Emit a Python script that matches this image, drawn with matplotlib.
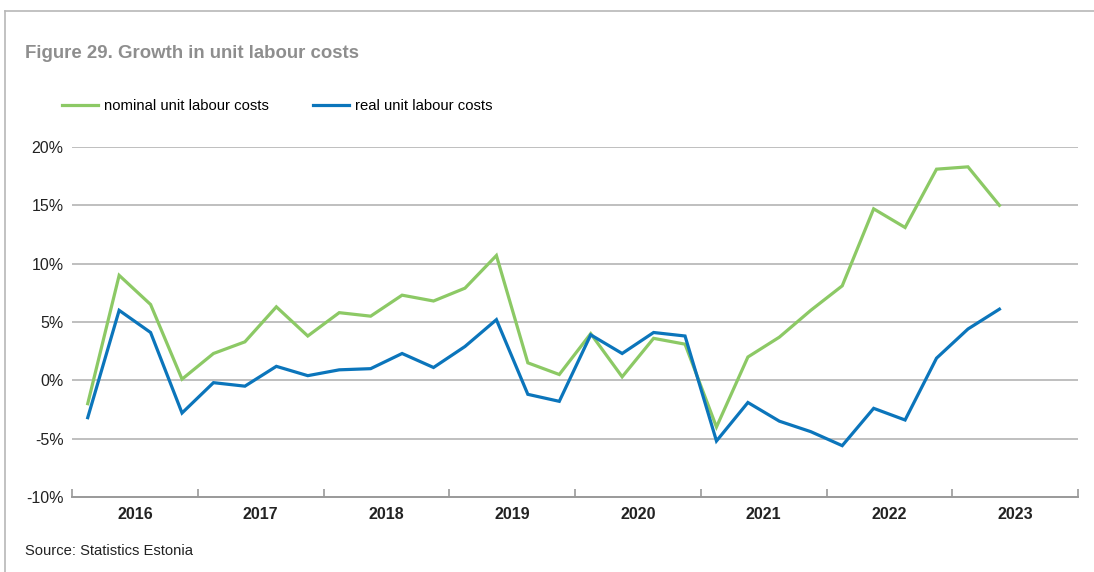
import numpy as np
import matplotlib.pyplot as plt
from matplotlib.lines import Line2D

plt.rcParams['font.family'] = ['Liberation Sans', 'DejaVu Sans']

years = ['2016', '2017', '2018', '2019', '2020', '2021', '2022', '2023']

# quarterly growth, %, 2016 Q1 - 2023 Q2
nominal = [-2.0, 9.0, 6.5, 0.1, 2.3, 3.3, 6.3, 3.8,
           5.8, 5.5, 7.3, 6.8, 7.9, 10.7, 1.5, 0.5,
           4.0, 0.3, 3.6, 3.1, -4.0, 2.0, 3.7, 6.0,
           8.1, 14.7, 13.1, 18.1, 18.3, 15.0]
real = [-3.2, 6.0, 4.1, -2.8, -0.2, -0.5, 1.2, 0.4,
        0.9, 1.0, 2.3, 1.1, 2.9, 5.2, -1.2, -1.8,
        3.9, 2.3, 4.1, 3.8, -5.2, -1.9, -3.5, -4.4,
        -5.6, -2.4, -3.4, 1.9, 4.4, 6.1]

green = '#8cc965'
blue = '#0b75bb'
grid_col = '#b4b4b4'

fig = plt.figure(figsize=(10.94, 5.72), dpi=100)
ax = fig.add_axes([72 / 1094, 75 / 572, 1006 / 1094, 350 / 572])

x = np.arange(len(nominal)) + 0.5
ax.plot(x, nominal, color=green, lw=2.3, label='nominal unit labour costs',
        solid_joinstyle='miter')
ax.plot(x, real, color=blue, lw=2.3, label='real unit labour costs',
        solid_joinstyle='miter')

ax.set_xlim(0, 4 * len(years))
ax.set_ylim(-10, 20)
ax.set_yticks(np.arange(-10, 21, 5))
ax.set_yticklabels([f'{v}%' for v in range(-10, 21, 5)], fontsize=11.5,
                   color='#222222')
for v in range(-5, 21, 5):
    ax.axhline(v, color=grid_col, lw=1.2, zorder=0)

ax.set_xticks(np.arange(0, 4 * len(years) + 1, 4))
ax.set_xticklabels([])
ax.set_xticks(np.arange(2, 4 * len(years), 4), minor=True)
ax.set_xticklabels(years, minor=True, fontsize=11.5, fontweight='bold',
                   color='#222222')
ax.tick_params(axis='x', which='major', direction='in', length=6,
               width=1.2, color='#999999')
ax.tick_params(axis='x', which='minor', length=0, pad=7)
ax.tick_params(axis='y', length=0, pad=6)

for s in ['top', 'right', 'left']:
    ax.spines[s].set_visible(False)
ax.spines['bottom'].set_color('#999999')
ax.spines['bottom'].set_linewidth(1.4)

fig.legend(*ax.get_legend_handles_labels(), loc='center left',
           bbox_to_anchor=(62 / 1094, 1 - 106 / 572), ncol=2,
           frameon=False, fontsize=10.7, handlelength=2.45,
           handletextpad=0.35, columnspacing=3.0, borderpad=0,
           borderaxespad=0)

fig.text(25 / 1094, 1 - 53 / 572, 'Figure 29. Growth in unit labour costs',
         fontsize=13.4, fontweight='bold', color='#8e8e8e', va='center')
fig.text(25 / 1094, 1 - 551 / 572, 'Source: Statistics Estonia',
         fontsize=10.6, color='#222222', va='center')

# box edges around the figure
fig.add_artist(Line2D([5 / 1094, 5 / 1094], [0, 1 - 11 / 572],
                      color='#b8b8b8', lw=1.2))
fig.add_artist(Line2D([5 / 1094, 1], [1 - 11 / 572, 1 - 11 / 572],
                      color='#b8b8b8', lw=1.2))

fig.savefig('out.png', dpi=100)
